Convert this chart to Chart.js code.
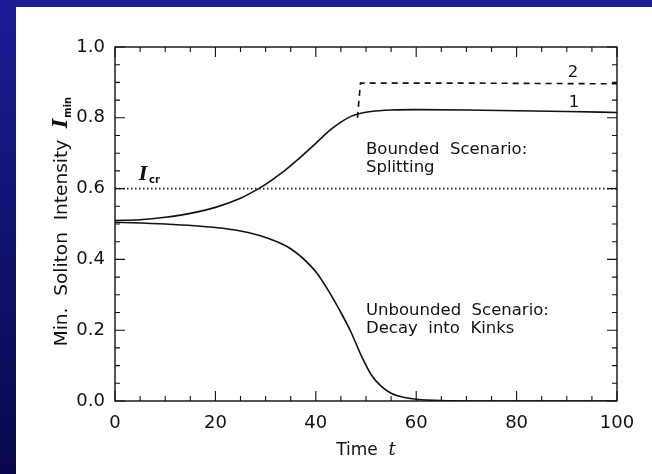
<!DOCTYPE html>
<html><head><meta charset="utf-8">
<script src="https://cdn.jsdelivr.net/npm/chart.js@4"></script>
<style>html,body{margin:0;padding:0;background:#fff}canvas{display:block}</style>
</head><body>
<div style="width:652px;height:474px"><canvas id="c" width="652" height="474"></canvas></div>
<script>
// ---- data ----
const timeBounded = [0,5,10,15,20,25,28,30,33,36,40,43,45,47,49,51,55,60,70,80,90,100];
const bounded     = [0.51,0.512,0.519,0.53,0.547,0.573,0.595,0.612,0.642,0.677,0.728,0.767,0.788,0.804,0.813,0.818,0.822,0.823,0.822,0.82,0.818,0.815];
const timeSplit   = [48.3,48.9,55,70,85,100];
const split       = [0.80,0.898,0.898,0.898,0.897,0.896];
const timeDecay   = [0,10,20,25,30,35,40,43,45,47,49,51,53,55,58,60,65,70,80,100];
const decay       = [0.505,0.5,0.49,0.48,0.462,0.43,0.365,0.3,0.25,0.195,0.13,0.075,0.042,0.022,0.009,0.005,0.001,0,0,0];
const timeCrit    = [0,100];
const crit        = [0.6,0.6];
const xTickValues = [0,20,40,60,80,100];
const yTickValues = [0.0,0.2,0.4,0.6,0.8,1.0];

const pts = (xs, ys) => xs.map((x,i)=>({x, y: ys[i]}));
const FONT = '"DejaVu Sans", sans-serif';

const decor = {
  id:'decor',
  beforeDraw(chart){
    const ctx = chart.ctx, W = chart.width, H = chart.height;
    ctx.save();
    const g = ctx.createLinearGradient(0,0,0,H);
    g.addColorStop(0,'#1c1c96'); g.addColorStop(1,'#08084a');
    ctx.fillStyle = g; ctx.fillRect(0,0,W,H);
    ctx.fillStyle = '#fff'; ctx.fillRect(16,7,W-16,H-7);
    ctx.restore();
  },
  afterDraw(chart){
    const {ctx, chartArea:a, scales:{x,y}} = chart;
    ctx.save();
    ctx.strokeStyle = '#111'; ctx.lineWidth = 1.4;
    ctx.strokeRect(a.left, a.top, a.right-a.left, a.bottom-a.top);
    ctx.lineWidth = 1.1;
    ctx.beginPath();
    for (let v=0; v<=100.001; v+=5){
      const px = x.getPixelForValue(v), L = (v%20===0)?10:5;
      ctx.moveTo(px,a.bottom); ctx.lineTo(px,a.bottom-L);
      ctx.moveTo(px,a.top); ctx.lineTo(px,a.top+L);
    }
    for (let k=0; k<=20; k++){
      const v = k*0.05, py = y.getPixelForValue(v), L = (k%4===0)?10:5;
      ctx.moveTo(a.left,py); ctx.lineTo(a.left+L,py);
      ctx.moveTo(a.right,py); ctx.lineTo(a.right-L,py);
    }
    ctx.stroke();

    ctx.fillStyle = '#111';
    ctx.textBaseline = 'alphabetic';
    ctx.font = '16.5px ' + FONT;
    ctx.textAlign = 'left';
    ctx.fillText('Bounded  Scenario:', 366, 154);
    ctx.fillText('Splitting', 366, 172);
    ctx.fillText('Unbounded  Scenario:', 366, 315);
    ctx.fillText('Decay  into  Kinks', 366, 333);
    ctx.textAlign = 'center';
    ctx.fillText('2', 573, 77);
    ctx.fillText('1', 574, 107);

    // I_cr label
    ctx.textAlign = 'left';
    ctx.font = 'italic bold 18px "DejaVu Serif", serif';
    ctx.fillText('I', 139, 180);
    ctx.font = 'bold 10px ' + FONT;
    ctx.fillText('cr', 149, 183);

    // x title
    ctx.textAlign = 'left';
    const t1 = 'Time  ';
    ctx.font = '17px ' + FONT;
    const w1 = ctx.measureText(t1).width;
    ctx.font = 'italic 18px "DejaVu Serif", serif';
    const w2 = ctx.measureText('t').width;
    let sx = 366 - (w1+w2)/2;
    ctx.font = '17px ' + FONT;
    ctx.fillText(t1, sx, 455);
    ctx.font = 'italic 18px "DejaVu Serif", serif';
    ctx.fillText('t', sx+w1, 455);

    // y title (rotated)
    ctx.save();
    ctx.translate(67, 222);
    ctx.rotate(-Math.PI/2);
    const s1 = 'Min.  Soliton  Intensity  ';
    ctx.font = '18.5px ' + FONT;
    const a1 = ctx.measureText(s1).width;
    ctx.font = 'italic bold 20px "DejaVu Serif", serif';
    const a2 = ctx.measureText('I').width;
    ctx.font = 'bold 10px ' + FONT;
    const a3 = ctx.measureText('min').width;
    let st = -(a1+a2+a3)/2;
    ctx.font = '18.5px ' + FONT; ctx.fillText(s1, st, 0);
    ctx.font = 'italic bold 20px "DejaVu Serif", serif'; ctx.fillText('I', st+a1, 0);
    ctx.font = 'bold 10px ' + FONT; ctx.fillText('min', st+a1+a2+1, 4);
    ctx.restore();
    ctx.restore();
  }
};

new Chart(document.getElementById('c'), {
  type:'line',
  data:{datasets:[
    {data:pts(timeCrit,crit), borderColor:'#222', borderWidth:1.6, borderDash:[1.5,2.5], pointRadius:0, tension:0},
    {data:pts(timeBounded,bounded), borderColor:'#111', borderWidth:1.6, pointRadius:0, cubicInterpolationMode:'monotone'},
    {data:pts(timeSplit,split), borderColor:'#111', borderWidth:1.6, borderDash:[6,5], pointRadius:0, tension:0},
    {data:pts(timeDecay,decay), borderColor:'#111', borderWidth:1.6, pointRadius:0, cubicInterpolationMode:'monotone'}
  ]},
  options:{
    responsive:false, animation:false,
    layout:{padding:{left:0,top:47,right:35,bottom:0}},
    plugins:{legend:{display:false}, tooltip:{enabled:false}},
    scales:{
      x:{type:'linear', min:0, max:100,
         afterFit(s){ s.height = 73; },
         afterBuildTicks(s){ s.ticks = xTickValues.map(v=>({value:v})); },
         grid:{display:false, drawTicks:false}, border:{display:false},
         ticks:{padding:12, color:'#111', font:{family:'DejaVu Sans', size:18}, maxRotation:0}},
      y:{type:'linear', min:0, max:1,
         afterFit(s){ s.width = 115; },
         afterBuildTicks(s){ s.ticks = yTickValues.map(v=>({value:v})); },
         grid:{display:false, drawTicks:false}, border:{display:false},
         ticks:{padding:10, color:'#111', font:{family:'DejaVu Sans', size:18}, callback:v=>Number(v).toFixed(1)}}
    }
  },
  plugins:[decor]
});
</script>
</body></html>
